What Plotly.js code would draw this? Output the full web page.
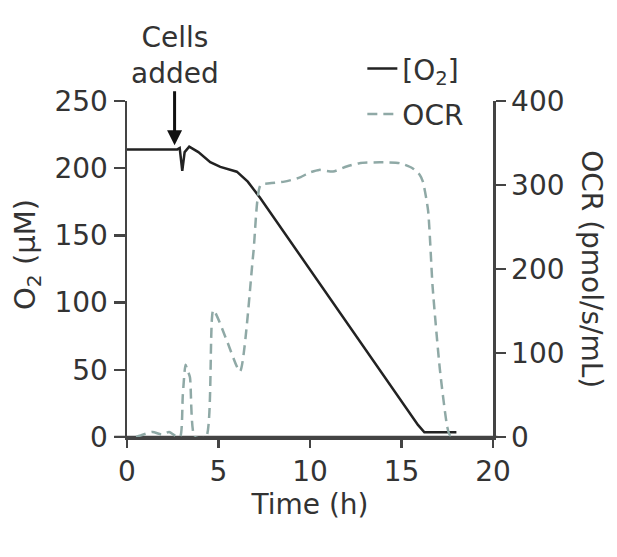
<!DOCTYPE html>
<html>
<head>
<meta charset="utf-8">
<script src="https://cdn.plot.ly/plotly-3.0.1.min.js"></script>
<style>html,body{margin:0;padding:0;background:#fff;}#chart{width:617px;height:557px;}</style>
</head>
<body>
<div id="chart"></div>
<script>
// O2 concentration (µM) vs time (h)
const o2Time = [0, 2.75, 2.88, 2.97, 3.02, 3.15, 3.4, 3.9, 4.55, 5.1, 6.0, 6.6, 7.27, 15.9, 16.25, 18.0];
const o2Vals = [214, 214, 215, 205, 198, 212, 216, 212, 204.5, 201, 197.4, 190, 178, 9, 3.5, 3.5];

// Oxygen consumption rate (pmol/s/mL) vs time (h)
const ocrTime = [0.5, 0.9, 1.4, 1.9, 2.3, 2.6, 2.9, 3.05, 3.2, 3.3, 3.44, 3.7, 4.32, 4.72, 5.45, 6.17, 6.9, 7.3, 7.8, 8.6, 9.45, 10.0, 10.5, 11.26, 12.0, 12.7, 13.8, 14.9, 15.6, 16.0, 16.17, 16.45, 16.7, 17.1, 17.5, 17.65, 18.0];
const ocrVals = [0, 3, 6, 3, 6, 2, 0, 50, 86, 80, 71, 0, 0, 151, 115, 78, 218, 300, 302, 304, 309, 315, 318, 316, 322, 326, 327, 326, 320, 312, 304, 270, 179, 80, 12, 2, 2];

const leftTicks = [0, 50, 100, 150, 200, 250];
const rightTicks = [0, 100, 200, 300, 400];
const xTicks = [0, 5, 10, 15, 20];

const FONT = 'DejaVu Sans, Arial, sans-serif';
const TXT = '#333';
const AX = '#444';
const FS = 28;

const traces = [
  {x: o2Time, y: o2Vals, type: 'scatter', mode: 'lines', name: '[O<sub>2</sub>]', legendgroup: 'a',
   line: {color: '#222', width: 2.5}, yaxis: 'y'},
  {x: ocrTime, y: ocrVals, type: 'scatter', mode: 'lines', name: 'OCR', legendgroup: 'b',
   line: {color: '#8fa9a6', width: 2.5, dash: '10px,6px', shape: 'spline', smoothing: 0.6}, yaxis: 'y2'}
];

const axisBase = {showgrid: false, zeroline: false, showline: true, linecolor: AX, linewidth: 2.5,
  ticks: 'outside', tickwidth: 2.5, tickcolor: AX, tickfont: {family: FONT, size: FS, color: TXT}};

const layout = {
  width: 617, height: 557,
  margin: {l: 127, r: 124, t: 101, b: 120},
  paper_bgcolor: '#fff', plot_bgcolor: '#fff',
  font: {family: FONT, size: FS, color: TXT},
  showlegend: true,
  legend: {x: 0.643, y: 1.17, xanchor: 'left', yanchor: 'top', bgcolor: 'rgba(0,0,0,0)',
           font: {family: FONT, size: FS, color: TXT}, tracegroupgap: 6},
  xaxis: Object.assign({}, axisBase, {range: [0, 20], tickvals: xTicks, ticktext: xTicks.map(String), ticklen: 8,
          title: {text: 'Time (h)', font: {family: FONT, size: FS, color: TXT}, standoff: 6}}),
  yaxis: Object.assign({}, axisBase, {range: [0, 250], tickvals: leftTicks, ticktext: leftTicks.map(String), ticklen: 11}),
  yaxis2: Object.assign({}, axisBase, {range: [0, 400], tickvals: rightTicks, ticktext: rightTicks.map(String), ticklen: 10,
           overlaying: 'y', side: 'right'}),
  shapes: [
    {type: 'line', xref: 'paper', yref: 'y', x0: -0.035, x1: 1.012, y0: 0, y1: 0,
     line: {color: AX, width: 2.5}, layer: 'below'}
  ],
  annotations: [
    {xref: 'x', yref: 'y', x: 2.6, y: 217, ax: 0, ay: -90, text: 'Cells<br>added',
     showarrow: true, arrowhead: 2, arrowsize: 1, arrowwidth: 3, arrowcolor: '#111',
     font: {family: FONT, size: FS, color: TXT}, standoff: 0},
    {xref: 'paper', yref: 'paper', x: -0.273, y: 0.542, text: 'O<sub>2</sub> (μM)',
     textangle: -90, showarrow: false, xanchor: 'center', yanchor: 'middle',
     font: {family: FONT, size: 29, color: TXT}},
    {xref: 'paper', yref: 'paper', x: 1.27, y: 0.5, text: 'OCR (pmol/s/mL)',
     textangle: 90, showarrow: false, xanchor: 'center', yanchor: 'middle',
     font: {family: FONT, size: FS, color: TXT}}
  ]
};

Plotly.newPlot('chart', traces, layout, {staticPlot: true, displayModeBar: false});
</script>
</body>
</html>
